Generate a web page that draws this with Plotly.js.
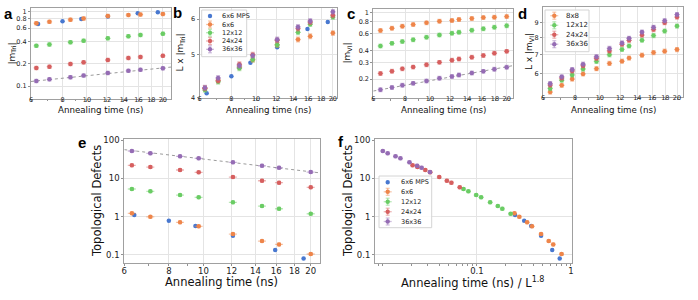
<!DOCTYPE html>
<html>
<head>
<meta charset="utf-8">
<script src="https://cdn.plot.ly/plotly-3.0.1.min.js"></script>
<style>html,body{margin:0;padding:0;background:#fff;}#plot{width:698px;height:300px;}</style>
</head>
<body>
<div id="plot"></div>
<script>
// ---------------- data ----------------
// Panel a/b/e/f : annealing times (ns)
const tTri = [6.3, 7.1, 8.6, 9.7, 12.1, 14.6, 16.3, 20.0];
const tMPS = [6.4, 8.0, 9.5, 12.1, 15.9, 19.1];
// |m_Tri|
const mTriMPS = [0.682, 0.745, 0.798, 0.865, 0.95, 0.985];
const mTri6  = [0.70, 0.73, 0.78, 0.81, 0.875, 0.90, 0.915, 0.93];
const mTri12 = [0.347, 0.362, 0.388, 0.406, 0.438, 0.467, 0.487, 0.505];
const mTri24 = [0.175, 0.182, 0.198, 0.208, 0.224, 0.238, 0.246, 0.255];
const mTri36 = [0.117, 0.123, 0.131, 0.138, 0.150, 0.160, 0.165, 0.173];
const fitTriX = [6, 21.6];
const fitTriY = [0.115, 0.180];
// Panel c/d : |m_VI|
const tVI = [6.4, 7.1, 7.8, 8.6, 9.7, 10.9, 12.2, 13.0, 14.6, 16.2, 17.9, 20.0];
const mVI8  = [0.65, 0.686, 0.72, 0.75, 0.782, 0.815, 0.83, 0.85, 0.87, 0.888, 0.898, 0.91];
const mVI12 = [0.446, 0.476, 0.496, 0.52, 0.552, 0.582, 0.607, 0.624, 0.653, 0.677, 0.702, 0.73];
const mVI24 = [0.229, 0.242, 0.256, 0.267, 0.283, 0.300, 0.316, 0.326, 0.340, 0.355, 0.375, 0.392];
const mVI36 = [0.1545, 0.163, 0.1725, 0.180, 0.191, 0.204, 0.213, 0.221, 0.232, 0.241, 0.254, 0.2665];
const fitVIX = [6, 21.2];
const fitVIY = [0.1495, 0.277];
// Panel e/f : topological defects
const defMPS = [1.10, 0.78, 0.568, 0.317, 0.134, 0.0815];
const def6  = [1.22, 0.99, 0.71, 0.558, 0.352, 0.231, 0.189, 0.106];
const def12 = [5.26, 4.58, 3.66, 3.19, 2.36, 1.89, 1.61, 1.19];
const def24 = [21.8, 19.7, 16.5, 14.3, 10.8, 8.65, 7.68, 5.82];
const def36 = [51.6, 44.9, 37.5, 33.3, 26.2, 21.3, 18.9, 14.6];
const fitDefX = [6, 21.2];
const fitDefY = [56, 13.9];
const kzExponent = 1.8;
// tick labels
const timeTicks = [6, 8, 10, 12, 14, 16, 18, 20];
const aTicks = [0.1, 0.2, 0.4, 0.6, 0.8, 1];
const aTickText = ['0.1', '0.2', '0.4', '0.6', '0.8', '1'];
const bTicks = [4, 5, 6];
const cTicks = [0.2, 0.3, 0.4, 0.6, 0.8, 1];
const cTickText = ['0.2', '0.3', '0.4', '0.6', '0.8', '1'];
const dTicks = [6, 7, 8, 9];
const eTicks = [0.1, 1, 10, 100];
const eTickText = ['0.1', '1', '10', '100'];
const fTicks = [0.1, 1];
const fTickText = ['0.1', '1'];
const namesTri = ['6x6 MPS', '6x6', '12x12', '24x24', '36x36'];
const namesVI = ['8x8', '12x12', '24x24', '36x36'];
const sizesTri = [6, 6, 12, 24, 36];
const sizesVI = [8, 12, 24, 36];

// ---------------- style ----------------
const W = 698, H = 300;
const FONT = 'DejaVu Sans, Liberation Sans, sans-serif';
const COL = {blue:'#4878d0', orange:'#ee854a', green:'#6acc64', red:'#d65f5f', purple:'#956cb4'};
const ERR = {orange:'rgba(238,133,74,0.45)', green:'rgba(106,204,100,0.45)', red:'rgba(214,95,95,0.45)', purple:'rgba(149,108,180,0.45)', blue:'rgba(72,120,208,0.45)'};
const colTri = ['blue', 'orange', 'green', 'red', 'purple'];
const colVI = ['orange', 'green', 'red', 'purple'];

function xd(a, b) { return [a / W, b / W]; }
function yd(top, bot) { return [1 - bot / H, 1 - top / H]; }

function pts(x, y, name, c, ax, opt) {
  opt = opt || {};
  const tr = {
    type: 'scatter', mode: 'markers', x: x, y: y, name: name,
    xaxis: 'x' + ax.x, yaxis: 'y' + ax.y,
    marker: {size: 4.5, color: COL[c]},
    showlegend: false, cliponaxis: true
  };
  if (opt.err) {
    tr.error_y = {type: 'percent', value: opt.ey, color: ERR[c], thickness: 1.2, width: 2};
    tr.error_x = {type: 'percent', value: opt.ex, color: ERR[c], thickness: 1.3, width: 0};
  }
  return tr;
}
function fit(x, y, ax) {
  return {type: 'scatter', mode: 'lines', x: x, y: y, xaxis: 'x' + ax.x, yaxis: 'y' + ax.y,
    line: {color: '#9a9a9a', width: 1, dash: 'dot'}, showlegend: false, hoverinfo: 'skip'};
}

const A = {x: '', y: ''}, B = {x: '2', y: '2'}, C = {x: '3', y: '3'},
      D = {x: '4', y: '4'}, E = {x: '5', y: '5'}, F = {x: '6', y: '6'};

const traces = [];
// a
traces.push(fit(fitTriX, fitTriY, A));
const triM = [mTriMPS, mTri6, mTri12, mTri24, mTri36];
triM.forEach((m, i) => traces.push(pts(i === 0 ? tMPS : tTri, m, namesTri[i], colTri[i], A, {err: i > 0, ey: 5, ex: 2.5})));
// b  (L x |m|)
triM.forEach((m, i) => traces.push(pts(i === 0 ? tMPS : tTri, m.map(v => v * sizesTri[i]), namesTri[i], colTri[i], B,
  {err: i > 0, ey: 1.2, ex: 2.5})));
// c
traces.push(fit(fitVIX, fitVIY, C));
const viM = [mVI8, mVI12, mVI24, mVI36];
viM.forEach((m, i) => traces.push(pts(tVI, m, namesVI[i], colVI[i], C, {err: true, ey: 4.5, ex: 2.5})));
// d
viM.forEach((m, i) => traces.push(pts(tVI, m.map(v => v * sizesVI[i]), namesVI[i], colVI[i], D,
  {err: true, ey: 1.6, ex: 2.5})));
// e
traces.push(fit(fitDefX, fitDefY, E));
const defs = [defMPS, def6, def12, def24, def36];
defs.forEach((d, i) => traces.push(pts(i === 0 ? tMPS : tTri, d, namesTri[i], colTri[i], E, {err: i > 0, ey: 8, ex: 2.6})));
// f  (time / L^1.8)
defs.forEach((d, i) => {
  const t = i === 0 ? tMPS : tTri;
  traces.push(pts(t.map(v => v / Math.pow(sizesTri[i], kzExponent)), d, namesTri[i], colTri[i], F,
    {err: i > 0, ey: 8, ex: 6}));
});

const L10 = Math.log10;
function axis(big, p) {
  const base = {
    type: 'log', showline: true, linecolor: '#a0a0a0', linewidth: 1, mirror: true,
    ticks: 'outside', ticklen: 2, tickwidth: 0.8, tickcolor: '#777',
    tickfont: {size: big ? 8.5 : 6.5, family: FONT, color: '#222'},
    showgrid: true, gridcolor: '#e4e4e4', gridwidth: 1, zeroline: false,
    tickmode: 'array', fixedrange: true, automargin: false
  };
  return Object.assign(base, p);
}
function minorX(vals) {
  return {tickmode: 'array', tickvals: vals, ticks: 'outside', ticklen: 1.5, tickcolor: '#777', showgrid: false};
}
const ANN = 'Annealing time (ns)';

// ---- annotations (panel letters, axis titles) ----
const annotations = [];
function txt(text, x, y, size, opt) {
  opt = opt || {};
  annotations.push({text: text, x: x / W, y: 1 - y / H, xref: 'paper', yref: 'paper',
    xanchor: opt.xanchor || 'center', yanchor: 'middle', showarrow: false, textangle: opt.angle || 0,
    font: {size: size, family: opt.family || FONT, color: opt.color || '#111'}});
}
[['a', 8, 13.5], ['b', 177, 12.7], ['c', 351, 14], ['d', 522.5, 13.3], ['e', 82, 142.3], ['f', 341, 141]]
  .forEach(p => txt('<b>' + p[0] + '</b>', p[1], p[2], 15, {family: 'Liberation Sans, Arial, sans-serif', color: '#000'}));
// x titles
[[101, ANN], [268, ANN], [443.3, ANN], [613, ANN]].forEach(p => txt(p[1], p[0], 110.3, 8.7));
txt(ANN, 222, 282, 11.5);
txt('Annealing time (ns) / L<sup>1.8</sup>', 473.3, 282, 11.5);
// y titles
txt('|m<sub>Tri</sub>|', 12, 53.5, 9, {angle: -90});
txt('L x |m<sub>Tri</sub>|', 181, 52.6, 9, {angle: -90});
txt('|m<sub>VI</sub>|', 348, 53.6, 9, {angle: -90});
txt('L x |m<sub>VI</sub>|', 529, 52, 9, {angle: -90});
txt('Topological Defects', 97, 201, 11.5, {angle: -90});
txt('Topological Defects', 348, 201, 11.5, {angle: -90});

// ---- legends drawn as boxes + symbols + labels ----
const shapes = [];
function legend(box, mx, tx, ys, names, cols, errs, fs) {
  shapes.push({type: 'rect', xref: 'paper', yref: 'paper', x0: box[0] / W, x1: box[2] / W, y0: 1 - box[3] / H, y1: 1 - box[1] / H,
    line: {color: '#d4d4d4', width: 1}, fillcolor: 'rgba(255,255,255,0.85)', layer: 'above'});
  names.forEach((n, i) => {
    const y = ys[i], c = cols[i];
    if (errs[i]) {
      const e = ERR[c];
      shapes.push({type: 'line', xref: 'paper', yref: 'paper', x0: (mx - 4) / W, x1: (mx + 4) / W, y0: 1 - y / H, y1: 1 - y / H, line: {color: e, width: 1.3}, layer: 'above'});
      shapes.push({type: 'line', xref: 'paper', yref: 'paper', x0: mx / W, x1: mx / W, y0: 1 - (y - 3.5) / H, y1: 1 - (y + 3.5) / H, line: {color: e, width: 1.2}, layer: 'above'});
      [-3.5, 3.5].forEach(d => shapes.push({type: 'line', xref: 'paper', yref: 'paper', x0: (mx - 2) / W, x1: (mx + 2) / W,
        y0: 1 - (y + d) / H, y1: 1 - (y + d) / H, line: {color: e, width: 1.2}, layer: 'above'}));
    }
    shapes.push({type: 'circle', xref: 'paper', yref: 'paper', x0: (mx - 2.2) / W, x1: (mx + 2.2) / W, y0: 1 - (y + 2.2) / H, y1: 1 - (y - 2.2) / H,
      fillcolor: COL[c], line: {width: 0}, layer: 'above'});
    txt(n, tx, y, fs, {xanchor: 'left', color: '#222'});
  });
}
legend([201.7, 10, 246.7, 56.7], 210, 220.5, [16, 24.5, 32.7, 41, 49.3], namesTri, colTri, [false, true, true, true, true], 6.5);
legend([545, 10, 589, 51.7], 554.3, 564, [15.7, 25.3, 34.7, 44.2], namesVI, colVI, [true, true, true, true], 7);
legend([379, 176, 431.7, 227.7], 387.7, 398.5, [182.3, 191.8, 201.7, 211.7, 221.5], namesTri, colTri, [false, true, true, true, true], 6.5);

const TS = -8, TSB = -3;
const layout = {
  width: W, height: H, margin: {l: 0, r: 0, t: 0, b: 0},
  paper_bgcolor: '#fff', plot_bgcolor: '#fff',
  font: {family: FONT, color: '#111'},
  showlegend: false,
  xaxis: axis(false, {domain: xd(31, 171.3), range: [L10(6), L10(21.6)], tickvals: timeTicks, ticktext: timeTicks.map(String), anchor: 'y', minor: minorX([7, 9]), ticklabelstandoff: TS}),
  yaxis: axis(false, {domain: yd(8.3, 98.7), range: [-1.171, 0.046], tickvals: aTicks, ticktext: aTickText, anchor: 'x'}),
  xaxis2: axis(false, {domain: xd(199.5, 336.7), range: [L10(6), 1.316], tickvals: timeTicks, ticktext: timeTicks.map(String), anchor: 'y2', minor: minorX([7, 9]), ticklabelstandoff: TS}),
  yaxis2: axis(false, {domain: yd(7.5, 97.7), range: [L10(4), 0.804], tickvals: bTicks, ticktext: bTicks.map(String), anchor: 'x2'}),
  xaxis3: axis(false, {domain: xd(373.3, 513.3), range: [L10(6), 1.327], tickvals: timeTicks, ticktext: timeTicks.map(String), anchor: 'y3', minor: minorX([7, 9]), ticklabelstandoff: TS}),
  yaxis3: axis(false, {domain: yd(9, 98.3), range: [-0.902, 0.039], tickvals: cTicks, ticktext: cTickText, anchor: 'x3'}),
  xaxis4: axis(false, {domain: xd(543, 683.3), range: [L10(6), 1.3256], tickvals: timeTicks, ticktext: timeTicks.map(String), anchor: 'y4', minor: minorX([7, 9]), ticklabelstandoff: TS}),
  yaxis4: axis(false, {domain: yd(6.7, 97.3), range: [0.698, 1.009], tickvals: dTicks, ticktext: dTicks.map(String), anchor: 'x4'}),
  xaxis5: axis(true, {domain: xd(124.3, 320), range: [L10(6), 1.327], tickvals: timeTicks, ticktext: timeTicks.map(String), anchor: 'y5', minor: minorX([7, 9]), ticklabelstandoff: TSB}),
  yaxis5: axis(true, {domain: yd(139, 263.3), range: [-1.217, 2.026], tickvals: eTicks, ticktext: eTickText, anchor: 'x5'}),
  xaxis6: axis(true, {domain: xd(375, 571.7), range: [-2.085, 0.008], tickvals: fTicks, ticktext: fTickText, anchor: 'y6', ticklabelstandoff: TSB,
    minor: minorX([0.009, 0.01, 0.02, 0.03, 0.04, 0.05, 0.06, 0.07, 0.08, 0.09, 0.2, 0.3, 0.4, 0.5, 0.6, 0.7, 0.8, 0.9])}),
  yaxis6: axis(true, {domain: yd(139, 263.3), range: [-1.217, 2.026], tickvals: eTicks, ticktext: eTickText, anchor: 'x6'}),
  annotations: annotations,
  shapes: shapes
};

Plotly.newPlot('plot', traces, layout, {staticPlot: true, displayModeBar: false});
</script>
</body>
</html>
